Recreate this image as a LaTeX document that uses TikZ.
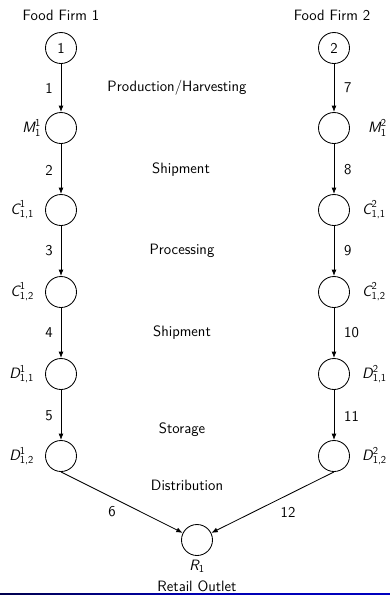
\documentclass[tikz,border=0pt]{standalone}
\usepackage{amsmath}
\usepackage{fontspec}
\usetikzlibrary{arrows.meta}
\newcommand{\vname}[1]{\textsl{#1}}
\begin{document}
\begin{tikzpicture}[x=1pt,y=-1pt,
  every node/.style={font=\sffamily\fontsize{15}{17}\selectfont},
  stage/.style={circle,draw,line width=0.85pt,minimum size=31pt,inner sep=0pt},
  flow/.style={line width=0.85pt,-{Latex[length=6.5pt,width=5pt]}},
  lab/.style={inner sep=0pt}]
\useasboundingbox (0,0) rectangle (390,595);

% column headings
\node[lab] (h1) at (61,15) {Food Firm 1};
\node[lab] (h2) at (332,15) {Food Firm 2};

% firm 1 chain
\node[stage] (a0) at (61,48) {1};
\node[stage] (a1) at (61,128) {};
\node[stage] (a2) at (61,210) {};
\node[stage] (a3) at (61,292) {};
\node[stage] (a4) at (61,374) {};
\node[stage] (a5) at (61,456) {};

% firm 2 chain
\node[stage] (b0) at (334,48) {2};
\node[stage] (b1) at (334,128) {};
\node[stage] (b2) at (334,210) {};
\node[stage] (b3) at (334,292) {};
\node[stage] (b4) at (334,374) {};
\node[stage] (b5) at (334,456) {};

% retail outlet
\node[stage] (r) at (197,540) {};
\node[lab] (rl) at (197,566) {$\vname{R}_{\text{1}}$};
\node[lab] (rt) at (197,586) {Retail Outlet};

% node names, firm 1
\node[lab,anchor=east] (na1) at (41,128) {$\vname{M}^{\text{1}}_{\text{1}}$};
\node[lab,anchor=east] (na2) at (34,210) {$\vname{C}^{\text{1}}_{\text{1,1}}$};
\node[lab,anchor=east] (na3) at (34,292) {$\vname{C}^{\text{1}}_{\text{1,2}}$};
\node[lab,anchor=east] (na4) at (34,374) {$\vname{D}^{\text{1}}_{\text{1,1}}$};
\node[lab,anchor=east] (na5) at (34,456) {$\vname{D}^{\text{1}}_{\text{1,2}}$};

% node names, firm 2
\node[lab,anchor=west] (nb1) at (368,128) {$\vname{M}^{\text{2}}_{\text{1}}$};
\node[lab,anchor=west] (nb2) at (362,210) {$\vname{C}^{\text{2}}_{\text{1,1}}$};
\node[lab,anchor=west] (nb3) at (362,292) {$\vname{C}^{\text{2}}_{\text{1,2}}$};
\node[lab,anchor=west] (nb4) at (362,374) {$\vname{D}^{\text{2}}_{\text{1,1}}$};
\node[lab,anchor=west] (nb5) at (362,456) {$\vname{D}^{\text{2}}_{\text{1,2}}$};

% stage descriptions
\node[lab] (s1) at (177,88) {Production/Harvesting};
\node[lab] (s2) at (181,170) {Shipment};
\node[lab] (s3) at (182,251) {Processing};
\node[lab] (s4) at (182,333) {Shipment};
\node[lab] (s5) at (182,430) {Storage};
\node[lab] (s6) at (187,485) {Distribution};

% links
\draw[flow] (a0) -- (a1);
\draw[flow] (a1) -- (a2);
\draw[flow] (a2) -- (a3);
\draw[flow] (a3) -- (a4);
\draw[flow] (a4) -- (a5);
\draw[flow] (b0) -- (b1);
\draw[flow] (b1) -- (b2);
\draw[flow] (b2) -- (b3);
\draw[flow] (b3) -- (b4);
\draw[flow] (b4) -- (b5);
\draw[flow] (a5.south) -- (r);
\draw[flow] (b5.south) -- (r);

% link numbers
\node[lab,anchor=east] (l1) at (53,88) {1};
\node[lab,anchor=east] (l2) at (53,170) {2};
\node[lab,anchor=east] (l3) at (53,251) {3};
\node[lab,anchor=east] (l4) at (53,333) {4};
\node[lab,anchor=east] (l5) at (53,416) {5};
\node[lab] (l6) at (112,512) {6};
\node[lab,anchor=west] (l7) at (344,88) {7};
\node[lab,anchor=west] (l8) at (344,170) {8};
\node[lab,anchor=west] (l9) at (344,251) {9};
\node[lab,anchor=west] (l10) at (344,333) {10};
\node[lab,anchor=west] (l11) at (344,416) {11};
\node[lab] (l12) at (288,512) {12};

% footer bar
\shade[left color=black!70!blue, right color=blue!75!black, middle color=blue!70!black]
  (0,593.3) rectangle (390,595);
\end{tikzpicture}
\end{document}
